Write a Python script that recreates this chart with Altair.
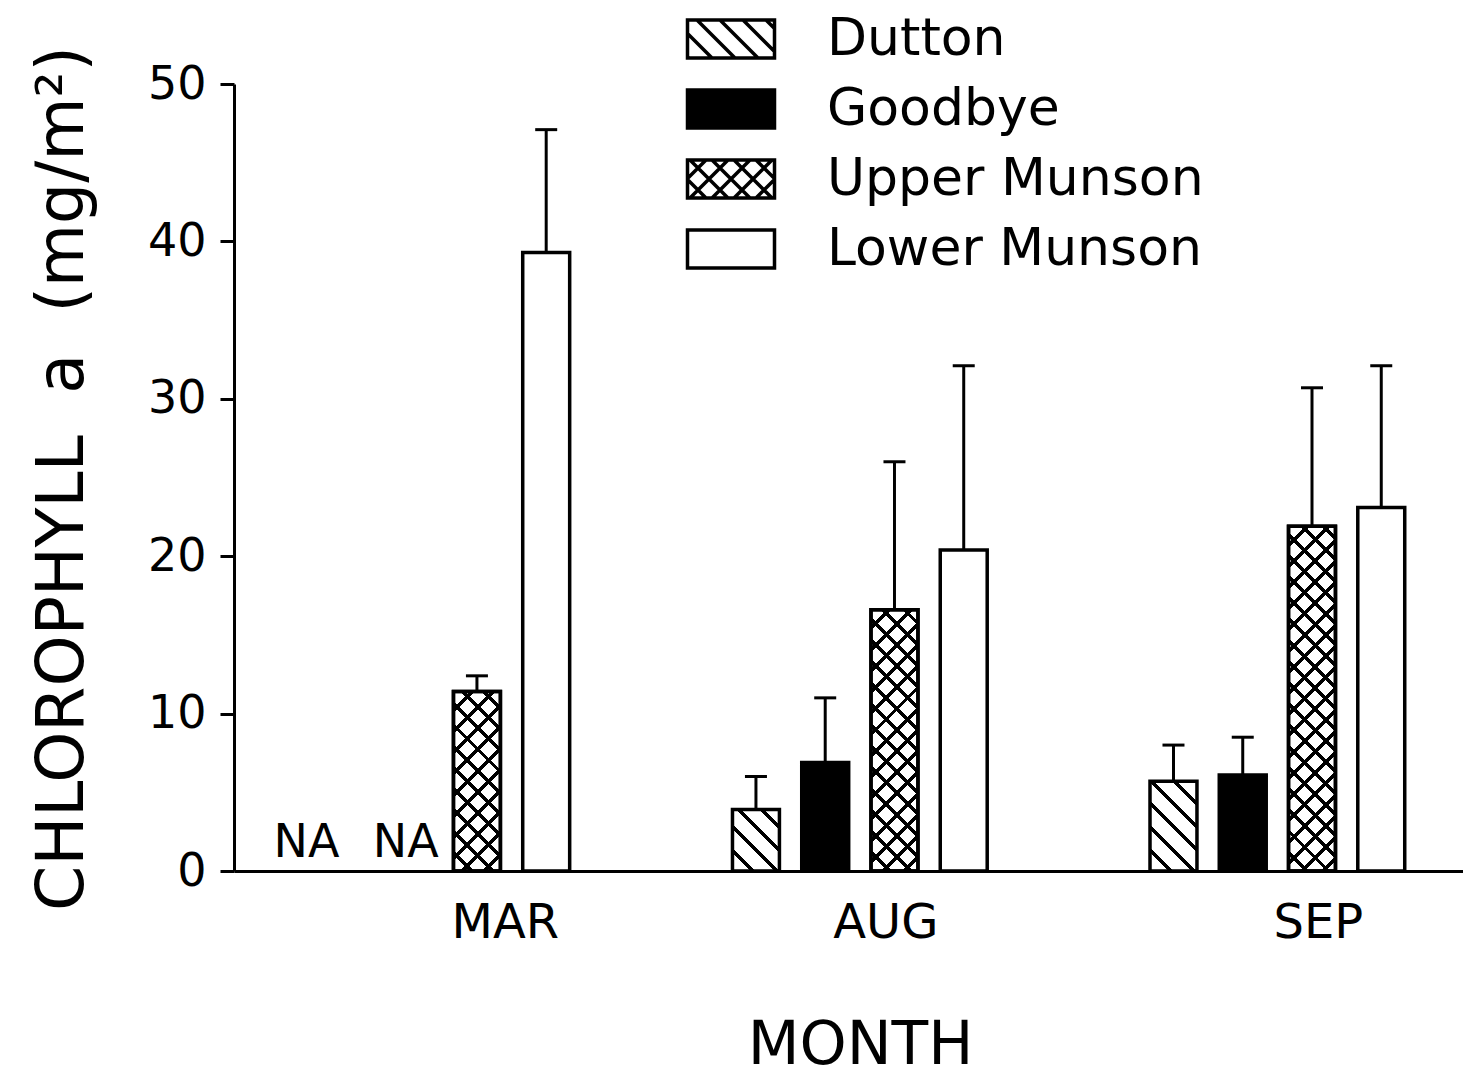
import json
import altair as alt
import pandas as pd

# ---------------- data ----------------
months = ["MAR", "AUG", "SEP"]
series = ["Dutton", "Goodbye", "Upper Munson", "Lower Munson"]
dutton = [None, 3.9, 5.7]
goodbye = [None, 6.9, 6.1]
upper_munson = [11.4, 16.6, 21.9]
lower_munson = [39.3, 20.4, 23.1]
dutton_err_top = [None, 6.0, 8.0]
goodbye_err_top = [None, 11.0, 8.5]
upper_munson_err_top = [12.4, 26.0, 30.7]
lower_munson_err_top = [47.1, 32.1, 32.1]
y_ticks = [0, 10, 20, 30, 40, 50]

vals = [dutton, goodbye, upper_munson, lower_munson]
tops = [dutton_err_top, goodbye_err_top, upper_munson_err_top, lower_munson_err_top]
rows = []
for s, v, t in zip(series, vals, tops):
    for m, vv, tt in zip(months, v, t):
        rows.append({"month": m, "series": s, "value": vv, "top": tt})
df = pd.DataFrame(rows)

# ---------------- layout / style constants ----------------
PLOT_W, PLOT_H = 1229, 787
X_PI, X_PO, X_ALIGN = 0.3365, 0.14, 0.597
O_PI, O_PO = 0.322, 0.161
step = PLOT_W / (len(months) - X_PI + 2 * X_PO)
band = step * (1 - X_PI)
o_step = band / (len(series) - O_PI + 2 * O_PO)
BAR_W = round(o_step * (1 - O_PI), 3)
PX_PER_UNIT = PLOT_H / 50.0
N_STRIPES = 40
FONT = "DejaVu Sans"
P_DUTTON, P_CROSS = 16.5, 15.0


def stripes(n, frac, bg, fg):
    out = []
    for i in range(n):
        a = round(i / n, 5)
        b = round((i + 1 - frac) / n, 5)
        c = round((i + 1) / n, 5)
        out += [{"offset": a, "color": bg}, {"offset": b, "color": bg},
                {"offset": b, "color": fg}, {"offset": c, "color": fg}]
    return out


STOPS_D = json.dumps(stripes(N_STRIPES, 3.5 / P_DUTTON, "white", "black"))
STOPS_U = json.dumps(stripes(N_STRIPES, 3.5 / P_CROSS, "white", "black"))
STOPS_X = json.dumps(stripes(N_STRIPES, 3.5 / P_CROSS, "rgba(255,255,255,0)", "black"))

fill_back = (
    "datum.series === 'Goodbye' ? 'black' : datum.series === 'Lower Munson' ? 'white' : "
    "{'gradient': 'linear', 'x1': 0, 'y1': 1, 'x2': datum.ga, "
    f"'y2': 1 - datum.ga * datum.hpx / {BAR_W}, "
    f"'stops': (datum.series === 'Dutton' ? {STOPS_D} : {STOPS_U})}}"
)
fill_front = (
    "{'gradient': 'linear', 'x1': 0, 'y1': 0, 'x2': datum.ga, "
    f"'y2': datum.ga * datum.hpx / {BAR_W}, 'stops': {STOPS_X}}}"
)

# legend symbol paths (custom symbol coordinates, unit = half nominal size)
SYM = 40
U = SYM / 2.0
LW, LH = 43.5, 19.0


def f3(v):
    return f"{v / U:.3f}"


rect = f"M{f3(-LW)},{f3(-LH)}H{f3(LW)}V{f3(LH)}H{f3(-LW)}Z"


def back_lines(spacing, phase=0.0):
    p = ""
    for k in range(-10, 11):
        c = k * spacing + phase
        y0, y1 = max(-LH, -LW - c), min(LH, LW - c)
        if y1 - y0 > 1:
            p += f"M{f3(y0 + c)},{f3(y0)}L{f3(y1 + c)},{f3(y1)}"
    return p


def fwd_lines(spacing, phase=0.0):
    p = ""
    for k in range(-10, 11):
        c = k * spacing + phase
        y0, y1 = max(-LH, c - LW), min(LH, c + LW)
        if y1 - y0 > 1:
            p += f"M{f3(c - y0)},{f3(y0)}L{f3(c - y1)},{f3(y1)}"
    return p


legend_paths = [
    rect + back_lines(23, 8),
    rect,
    rect + back_lines(22) + fwd_lines(22),
    rect,
]
legend_fills = ["white", "black", "white", "white"]

# ---------------- encodings ----------------
x_enc = alt.X(
    "month:N",
    sort=months,
    scale=alt.Scale(domain=months, paddingInner=X_PI, paddingOuter=X_PO, align=X_ALIGN),
    axis=alt.Axis(
        title="MONTH",
        labelAngle=0,
        ticks=False,
        domainColor="black",
        domainWidth=3,
        labelFontSize=48,
        labelColor="black",
        labelPadding=28,
        labelOverlap=False,
        labelOffset={
            "condition": [
                {"test": "datum.value === 'MAR'", "value": 63},
                {"test": "datum.value === 'AUG'", "value": 26},
            ],
            "value": 41,
        },
        titleFontSize=60,
        titleFontWeight="normal",
        titleColor="black",
        titleX=626,
        titleY=192,
        titleBaseline="alphabetic",
        titleAlign="center",
    ),
)
xo_enc = alt.XOffset(
    "series:N", sort=series,
    scale=alt.Scale(domain=series, paddingInner=O_PI, paddingOuter=O_PO),
)
y_scale = alt.Scale(domain=[0, 50], nice=False, zero=True)
y_axis = alt.Axis(
    values=y_ticks,
    grid=False,
    tickSize=14,
    tickWidth=3,
    tickColor="black",
    domainColor="black",
    domainWidth=3,
    labelFontSize=46,
    labelColor="black",
    labelPadding=14,
    title="CHLOROPHYLL\u00a0\u00a0a\u00a0\u00a0(mg/m\u00b2)",
    titleFontSize=65,
    titleFontWeight="normal",
    titleColor="black",
    titleX=-152,
    titleY=394,
    titleAlign="center",
    titleBaseline="alphabetic",
)
y_enc = alt.Y("value:Q", scale=y_scale, axis=y_axis)

base = alt.Chart(df).transform_calculate(
    hpx=f"datum.value * {PX_PER_UNIT}",
    per=f"datum.series === 'Dutton' ? {P_DUTTON} : {P_CROSS}",
).transform_calculate(
    ga=f"datum.per * 1.41421 * {BAR_W} * {N_STRIPES} / ({BAR_W} * {BAR_W} + datum.hpx * datum.hpx)"
)

bars_back = base.transform_calculate(fillA=fill_back).mark_bar(
    stroke="black", strokeWidth=3.5
).encode(x=x_enc, xOffset=xo_enc, y=y_enc, fill=alt.Fill("fillA:N", scale=None))

bars_front = base.transform_filter("datum.series === 'Upper Munson'").transform_calculate(
    fillB=fill_front
).mark_bar(stroke="black", strokeWidth=3.5).encode(
    x=x_enc, xOffset=xo_enc, y=y_enc, fill=alt.Fill("fillB:N", scale=None)
)

err = alt.Chart(df).mark_rule(color="black", strokeWidth=3).encode(
    x=x_enc, xOffset=xo_enc, y=alt.Y("value:Q", scale=y_scale), y2="top:Q"
)
caps = alt.Chart(df).mark_tick(color="black", size=22, thickness=3, opacity=1).encode(
    x=x_enc, xOffset=xo_enc, y=alt.Y("top:Q", scale=y_scale)
)

na_dutton = alt.Chart(df).transform_filter(
    "datum.series === 'Dutton' && !isValid(datum.value)"
).mark_text(text="NA", fontSize=46, baseline="alphabetic", dy=-14, dx=-32, color="black").encode(
    x=x_enc, xOffset=xo_enc, y=alt.datum(0)
)
na_goodbye = alt.Chart(df).transform_filter(
    "datum.series === 'Goodbye' && !isValid(datum.value)"
).mark_text(text="NA", fontSize=46, baseline="alphabetic", dy=-14, dx=-2, color="black").encode(
    x=x_enc, xOffset=xo_enc, y=alt.datum(0)
)

legend_pts = alt.Chart(df).mark_point(
    filled=True, size=0, stroke="black", strokeWidth=3.5, opacity=1
).encode(
    x=x_enc,
    xOffset=xo_enc,
    y=alt.Y("value:Q", scale=y_scale),
    color=alt.Color(
        "series:N",
        sort=series,
        scale=alt.Scale(domain=series, range=legend_fills),
        legend=alt.Legend(
            title=None,
            orient="none",
            legendX=471,
            legendY=-71,
            direction="vertical",
            symbolSize=SYM * SYM,
            symbolStrokeWidth=3.5,
            symbolStrokeColor="black",
            labelFontSize=52,
            labelFont=FONT,
            labelColor="black",
            labelOffset=70,
            labelLimit=800,
            rowPadding=18,
            padding=0,
        ),
    ),
    shape=alt.Shape("series:N", sort=series, scale=alt.Scale(domain=series, range=legend_paths)),
)

chart = alt.layer(
    bars_back, bars_front, err, caps, na_dutton, na_goodbye, legend_pts
).properties(
    width=PLOT_W,
    height=PLOT_H,
    autosize=alt.AutoSizeParams(type="none"),
    padding={"left": 226, "top": 76, "right": 0, "bottom": 206},
    background="white",
).configure(font=FONT).configure_view(stroke=None)

chart.save("out.html", embed_options={"renderer": "svg", "actions": False})
